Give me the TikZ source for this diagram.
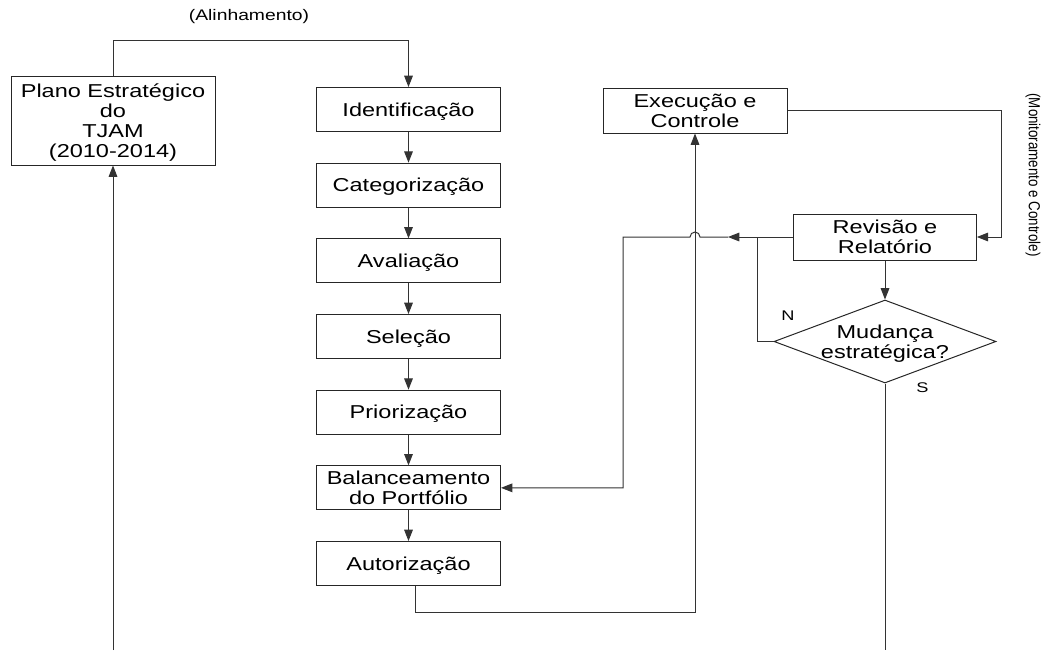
\documentclass[tikz,border=0pt]{standalone}
\usepackage{fontspec}
\setmainfont{Liberation Sans}
\usepackage{graphicx}
\usetikzlibrary{positioning,shapes.geometric,arrows.meta}
\newcommand{\largo}[1]{\raisebox{-2pt}[\height][\depth]{\scalebox{1.26}[1]{\begin{tabular}{@{}c@{}}#1\end{tabular}}}}

\begin{document}
\begin{tikzpicture}[x=0.75pt, y=-0.75pt, node distance=23pt,
    every node/.style = {font=\fontsize{14}{15}\selectfont},
    caixa/.style = {shape=rectangle, draw=black!85, line width=0.75pt,
      minimum width=138pt, minimum height=33pt, inner sep=0pt},
    decisao/.style = {shape=diamond, draw=black!85, line width=0.75pt, aspect=2.67,
      minimum width=166.5pt, minimum height=62.25pt, inner sep=0pt},
    seta/.style = {draw=black!80, line width=0.75pt,
      -{Triangle[length=8.5pt,width=6.5pt]}},
    linha/.style = {draw=black!80, line width=0.75pt}]
  \useasboundingbox (0,0) rectangle (1042,650);
  \node[caixa, minimum width=153pt, minimum height=66.75pt] (plano) at (113,120.5)
    {\largo{Plano Estratégico\\do\\TJAM\\(2010-2014)}};
  \node[caixa] (ident) at (408.5,109.5) {\largo{Identificação}};
  \node[caixa, below=of ident] (categ) {\largo{Categorização}};
  \node[caixa, below=of categ] (aval) {\largo{Avaliação}};
  \node[caixa, below=of aval] (selec) {\largo{Seleção}};
  \node[caixa, below=of selec] (prior) {\largo{Priorização}};
  \node[caixa, below=of prior] (balanc) {\largo{Balanceamento\\do Portfólio}};
  \node[caixa, below=of balanc] (autor) {\largo{Autorização}};
  \node[caixa, minimum height=33.75pt] (exec) at (695,110.5) {\largo{Execução e\\Controle}};
  \node[caixa, minimum width=137pt, minimum height=34.5pt] (revis) at (885,237)
    {\largo{Revisão e\\Relatório}};
  \node[decisao] (mudanca) at (885,341.5) {\makebox[0pt]{\largo{Mudança\\estratégica?}}};
  \node (alinh) at (249,17) {\scalebox{1.26}[1]{\fontsize{11.5}{13}\selectfont (Alinhamento)}};
  \node (nao) at (788,316) {\scalebox{1.3}[1]{\fontsize{10.5}{12}\selectfont N}};
  \node (sim) at (922.5,387.5) {\scalebox{1.3}[1]{\fontsize{10.5}{12}\selectfont S}};
  \node[rotate=-90, inner sep=1pt] (monit) at (1033,175)
    {\scalebox{1}[1.2]{\fontsize{10}{12}\selectfont (Monitoramento e Controle)}};

  \coordinate (alto) at (408.5,40);
  \draw[seta] (plano.north) |- (alto) -- (ident.north);
  \foreach \a/\b in {ident/categ, categ/aval, aval/selec, selec/prior, prior/balanc, balanc/autor}
    \draw[seta] (\a) -- (\b);
  \coordinate (baixo) at (695,612);
  \draw[seta] ([xshift=5.6pt]autor.south) |- (baixo) -- (exec.south);
  \coordinate (direita) at (1001,110.5);
  \draw[seta] (exec.east) -- (direita) |- (revis.east);
  \coordinate (ponta) at (728,237);
  \coordinate[xshift=3.75pt] (salto) at (exec.south |- ponta);
  \coordinate (esquerda) at (623,237);
  \draw[seta] (revis.west) -- (ponta);
  \draw[seta] (ponta) -- (salto) arc[start angle=0, end angle=180, radius=3.75pt]
    -- (esquerda) |- (balanc.east);
  \coordinate (ramo) at (757,237);
  \draw[linha] (ramo) |- (mudanca.west);
  \draw[seta] (revis) -- (mudanca);
  \coordinate (fimS) at (885,650);
  \draw[linha] (mudanca.south) -- (fimS);
  \coordinate (fimP) at (113,650);
  \draw[seta] (fimP) -- (plano.south);
\end{tikzpicture}
\end{document}
